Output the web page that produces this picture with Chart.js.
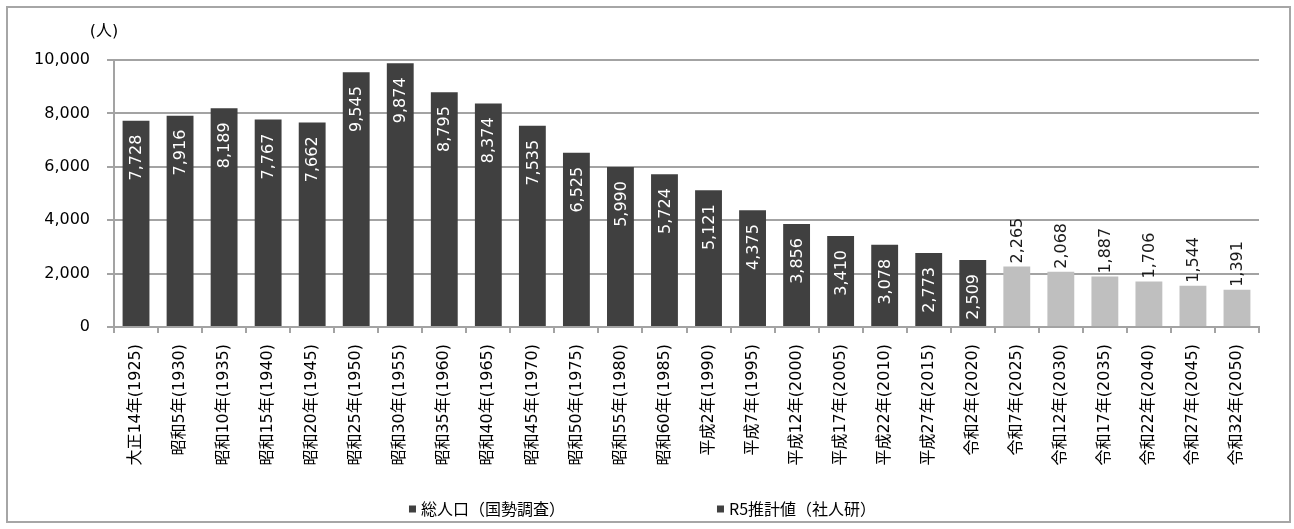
<!DOCTYPE html>
<html lang="ja">
<head>
<meta charset="utf-8">
<title>人口の推移</title>
<script src="https://cdn.jsdelivr.net/npm/chart.js@4.4.1/dist/chart.umd.min.js"></script>
<style>
  html, body { margin: 0; padding: 0; background: #fff; }
  #frame {
    position: absolute; left: 6px; top: 6px;
    width: 1285px; height: 517px;
    border: 2px solid #a6a6a6; box-sizing: border-box;
  }
  #chart { display: block; }
</style>
</head>
<body>
<div id="frame"><canvas id="chart" width="1281" height="513"></canvas></div>
<script>
// 年次ラベル（国勢調査 + 推計）
const categories = [
  '大正14年(1925)', '昭和5年(1930)', '昭和10年(1935)', '昭和15年(1940)', '昭和20年(1945)',
  '昭和25年(1950)', '昭和30年(1955)', '昭和35年(1960)', '昭和40年(1965)', '昭和45年(1970)',
  '昭和50年(1975)', '昭和55年(1980)', '昭和60年(1985)', '平成2年(1990)', '平成7年(1995)',
  '平成12年(2000)', '平成17年(2005)', '平成22年(2010)', '平成27年(2015)', '令和2年(2020)',
  '令和7年(2025)', '令和12年(2030)', '令和17年(2035)', '令和22年(2040)', '令和27年(2045)',
  '令和32年(2050)'
];

// 総人口（国勢調査）
const censusValues = [
  7728, 7916, 8189, 7767, 7662, 9545, 9874, 8795, 8374, 7535,
  6525, 5990, 5724, 5121, 4375, 3856, 3410, 3078, 2773, 2509
];

// R5推計値（社人研）
const projectionValues = [2265, 2068, 1887, 1706, 1544, 1391];

const seriesNames = ['総人口（国勢調査）', 'R5推計値（社人研）'];
const yMax = 10000;
const yStep = 2000;
const unitLabel = '(人)';

const DARK = '#404040';
const LIGHT = '#bfbfbf';
const GRID = '#a3a3a3';
const LATIN_FONT = '"DejaVu Sans", "Noto Sans CJK JP", sans-serif';
const CJK_FONT = '"Noto Sans CJK JP", "DejaVu Sans", sans-serif';

const fmt = v => Number(v).toLocaleString('en-US');

// 2系列を同じカテゴリ軸に並べる（空きは null）
const censusData = categories.map((_, i) => i < censusValues.length ? censusValues[i] : null);
const projectionData = categories.map((_, i) => {
  const j = i - censusValues.length;
  return j >= 0 ? projectionValues[j] : null;
});

// 棒の値ラベル（縦書き方向に回転）
const valueLabels = {
  id: 'valueLabels',
  afterDatasetsDraw(chart) {
    const ctx = chart.ctx;
    ctx.save();
    ctx.font = '16px ' + LATIN_FONT;
    ctx.textBaseline = 'middle';
    chart.data.datasets.forEach((ds, di) => {
      const meta = chart.getDatasetMeta(di);
      meta.data.forEach((bar, i) => {
        const v = ds.data[i];
        if (v == null) return;
        ctx.save();
        if (di === 0) {
          ctx.translate(bar.x + 1, bar.y + 14);
          ctx.rotate(-Math.PI / 2);
          ctx.textAlign = 'right';
          ctx.fillStyle = '#ffffff';
        } else {
          ctx.translate(bar.x + 1, bar.y - 3);
          ctx.rotate(-Math.PI / 2);
          ctx.textAlign = 'left';
          ctx.fillStyle = '#1a1a1a';
        }
        ctx.fillText(fmt(v), 0, 0);
        ctx.restore();
      });
    });
    ctx.restore();
  }
};

// 単位表示と凡例
const extras = {
  id: 'extras',
  afterDraw(chart) {
    const ctx = chart.ctx;
    const area = chart.chartArea;
    ctx.save();
    ctx.fillStyle = '#000';
    ctx.font = '16px ' + LATIN_FONT;
    ctx.textAlign = 'center';
    ctx.textBaseline = 'middle';
    ctx.fillText(unitLabel, area.left - 10, area.top - 28);

    // 凡例
    ctx.font = '16px ' + CJK_FONT;
    const box = 7, gapText = 5, gapItem = 152;
    const widths = seriesNames.map(t => ctx.measureText(t).width);
    const itemW = widths.map(w => box + gapText + w);
    const total = itemW[0] + gapItem + itemW[1];
    let x = chart.width / 2 - 6 - total / 2;
    const y = 501;
    ctx.textAlign = 'left';
    seriesNames.forEach((t, i) => {
      ctx.fillStyle = DARK;
      ctx.fillRect(x, y - box / 2, box, box);
      ctx.fillStyle = '#000';
      ctx.fillText(t, x + box + gapText, y);
      x += itemW[i] + gapItem;
    });
    ctx.restore();
  }
};

new Chart(document.getElementById('chart'), {
  type: 'bar',
  data: {
    labels: categories,
    datasets: [
      { label: seriesNames[0], data: censusData, backgroundColor: DARK, barPercentage: 0.61, categoryPercentage: 1 },
      { label: seriesNames[1], data: projectionData, backgroundColor: LIGHT, barPercentage: 0.61, categoryPercentage: 1 }
    ]
  },
  options: {
    responsive: false,
    animation: false,
    layout: { padding: { left: 0, right: 30, top: 52, bottom: 0 } },
    plugins: {
      legend: { display: false },
      tooltip: { enabled: false }
    },
    scales: {
      x: {
        stacked: true,
        afterFit: s => { s.height = 194; },
        grid: { drawOnChartArea: false, offset: true, tickLength: 6, color: GRID, lineWidth: 2 },
        border: { color: GRID, width: 2 },
        ticks: {
          autoSkip: false, minRotation: 90, maxRotation: 90, padding: 11,
          color: '#000', font: { size: 16, family: LATIN_FONT }
        }
      },
      y: {
        stacked: true,
        min: 0, max: yMax,
        afterFit: s => { s.width = 106; },
        grid: { color: GRID, lineWidth: 2, tickLength: 7 },
        border: { color: GRID, width: 2 },
        ticks: {
          stepSize: yStep, padding: 17, color: '#000',
          font: { size: 16, family: LATIN_FONT },
          callback: v => fmt(v)
        }
      }
    }
  },
  plugins: [valueLabels, extras]
});
</script>
</body>
</html>
